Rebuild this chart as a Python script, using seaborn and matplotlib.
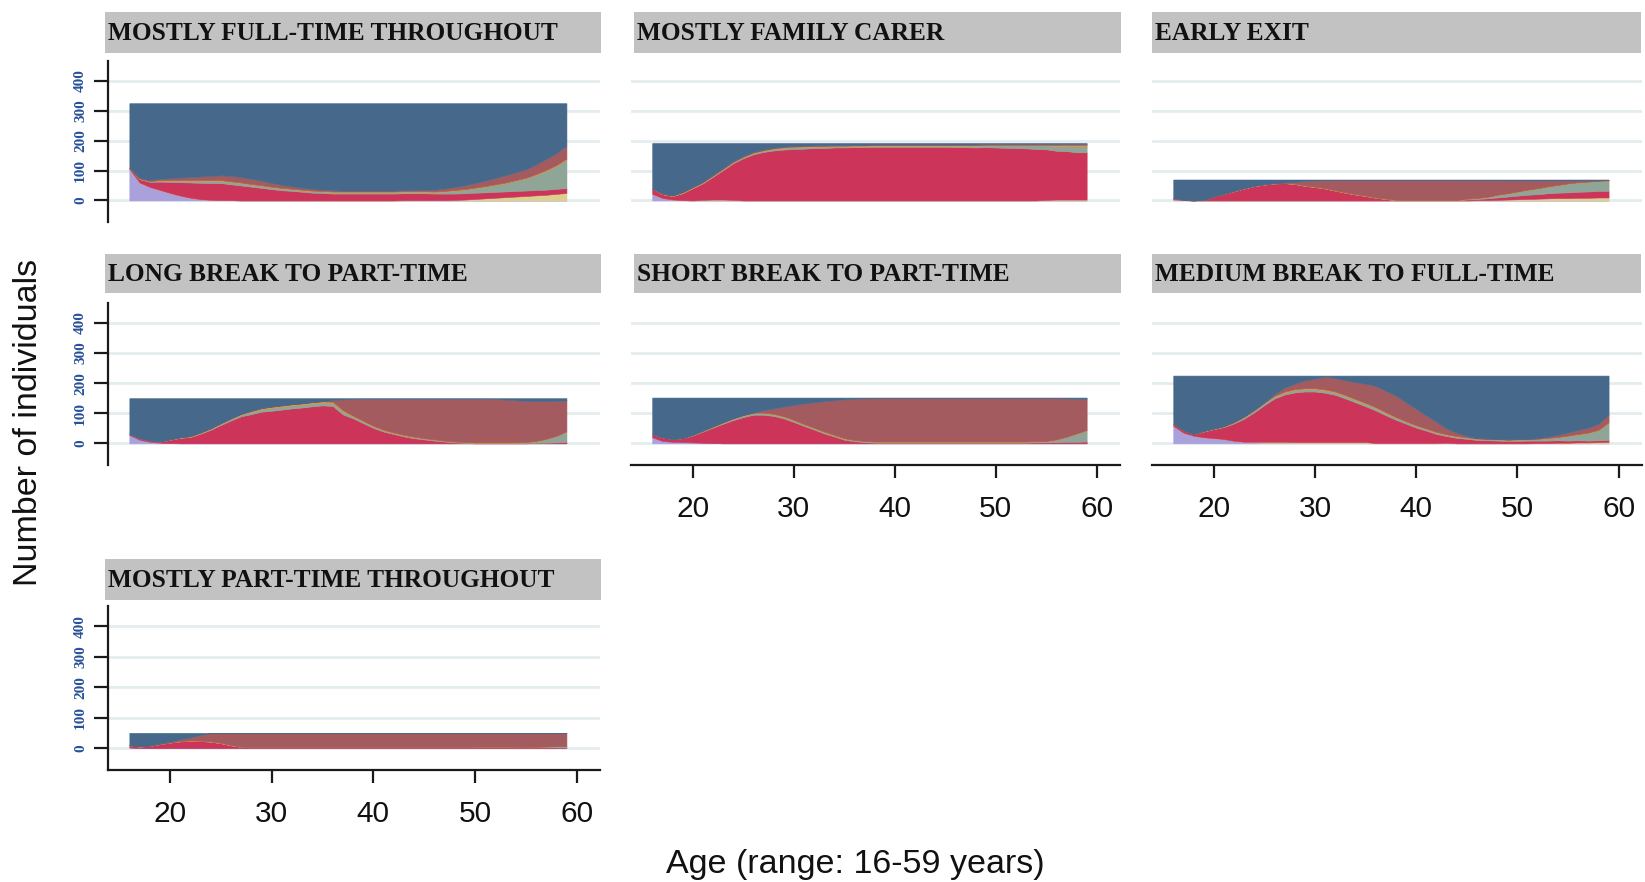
import numpy as np
import pandas as pd
import seaborn as sns
import matplotlib.pyplot as plt
from matplotlib.patches import Rectangle

ages = np.arange(16, 60)
states = ['Full-time', 'Part-time', 'Unemployed', 'Inactive', 'Family care', 'Retired', 'Education']
colours = ['#46698b', '#a45b60', '#e3902e', '#8fa597', '#cc3459', '#dcd08e', '#a9a0dc']
titles = ['MOSTLY FULL-TIME THROUGHOUT', 'MOSTLY FAMILY CARER', 'EARLY EXIT',
          'LONG BREAK TO PART-TIME', 'SHORT BREAK TO PART-TIME', 'MEDIUM BREAK TO FULL-TIME',
          'MOSTLY PART-TIME THROUGHOUT']

# counts per age 16..59
p1_full = [215, 250, 257, 253, 251, 249, 247, 245, 243, 241,
           243, 247, 253, 259, 267, 273, 278, 283, 287, 289,
           291, 292, 292, 292, 292, 292, 292, 291, 291, 290,
           289, 285, 280, 275, 267, 259, 250, 241, 231, 221,
           205, 187, 167, 143]
p1_part = [1, 2, 3, 4, 6, 8, 10, 12, 14, 16,
           18, 18, 17, 15, 12, 10, 8, 6, 5, 4,
           4, 3, 3, 3, 3, 3, 3, 3, 3, 4,
           6, 8, 10, 12, 15, 18, 21, 24, 26, 28,
           32, 36, 40, 42]
p1_unemp = [0, 1, 1, 2, 2, 2, 2, 2, 2, 2,
            2, 2, 2, 2, 2, 2, 2, 2, 2, 2,
            2, 2, 2, 2, 2, 2, 2, 2, 2, 2,
            2, 2, 2, 2, 2, 2, 2, 2, 2, 2,
            3, 3, 3, 3]
p1_inact = [0, 1, 2, 3, 4, 5, 6, 7, 8, 8,
            8, 8, 7, 7, 6, 6, 5, 5, 5, 5,
            5, 5, 5, 5, 5, 5, 5, 5, 5, 5,
            5, 7, 10, 12, 15, 19, 23, 28, 34, 41,
            50, 63, 76, 96]
p1_care = [4, 11, 17, 28, 37, 45, 51, 55, 56, 57,
           53, 50, 46, 42, 38, 34, 32, 29, 26, 25,
           23, 23, 23, 23, 23, 23, 23, 23, 23, 23,
           22, 22, 21, 21, 21, 20, 20, 19, 19, 18,
           18, 17, 17, 16]
p1_ret = [0, 0, 0, 0, 0, 0, 0, 0, 0, 0,
          0, 0, 0, 0, 0, 0, 0, 0, 0, 0,
          0, 0, 0, 0, 0, 0, 0, 1, 1, 1,
          1, 1, 2, 3, 5, 7, 9, 11, 13, 15,
          17, 19, 22, 25]
p1_edu = [105, 60, 45, 35, 25, 16, 9, 4, 2, 1,
          1, 0, 0, 0, 0, 0, 0, 0, 0, 0,
          0, 0, 0, 0, 0, 0, 0, 0, 0, 0,
          0, 0, 0, 0, 0, 0, 0, 0, 0, 0,
          0, 0, 0, 0]

p2_full = [152, 169, 175, 164, 147, 130, 107, 84, 61, 44,
           30, 22, 16, 12, 10, 9, 8, 8, 7, 7,
           6, 6, 5, 5, 5, 5, 5, 5, 5, 5,
           5, 5, 5, 4, 4, 4, 4, 4, 4, 4,
           4, 3, 3, 3]
p2_part = [0, 1, 1, 1, 1, 1, 2, 2, 2, 2,
           2, 2, 2, 2, 2, 2, 2, 2, 2, 2,
           2, 2, 2, 2, 2, 2, 2, 2, 2, 2,
           2, 2, 2, 2, 2, 2, 2, 2, 2, 2,
           3, 3, 4, 4]
p2_unemp = [0, 1, 1, 2, 2, 2, 2, 2, 2, 2,
            2, 2, 2, 2, 2, 2, 2, 2, 2, 2,
            2, 2, 2, 2, 2, 2, 2, 2, 2, 2,
            2, 2, 2, 2, 2, 2, 2, 2, 2, 2,
            3, 3, 4, 4]
p2_inact = [0, 0, 0, 1, 1, 2, 2, 3, 3, 3,
            4, 4, 5, 6, 6, 6, 5, 5, 4, 4,
            4, 4, 4, 4, 4, 4, 4, 4, 4, 4,
            5, 5, 6, 6, 7, 8, 9, 10, 12, 13,
            16, 18, 20, 20]
p2_care = [18, 13, 12, 23, 41, 55, 76, 98, 122, 141,
           154, 162, 167, 170, 172, 173, 175, 175, 177, 177,
           178, 178, 179, 179, 179, 179, 179, 179, 179, 179,
           178, 178, 177, 178, 177, 176, 175, 174, 172, 169,
           163, 162, 158, 158]
p2_ret = [0, 0, 0, 0, 0, 2, 3, 3, 2, 0,
          0, 0, 0, 0, 0, 0, 0, 0, 0, 0,
          0, 0, 0, 0, 0, 0, 0, 0, 0, 0,
          0, 0, 0, 0, 0, 0, 0, 0, 0, 2,
          3, 3, 3, 3]
p2_edu = [22, 8, 3, 1, 0, 0, 0, 0, 0, 0,
          0, 0, 0, 0, 0, 0, 0, 0, 0, 0,
          0, 0, 0, 0, 0, 0, 0, 0, 0, 0,
          0, 0, 0, 0, 0, 0, 0, 0, 0, 0,
          0, 0, 0, 0]

p3_full = [62, 68, 70, 68, 57, 48, 38, 29, 21, 16,
           12, 10, 8, 5, 3, 2, 1, 1, 1, 1,
           1, 1, 1, 1, 1, 1, 1, 1, 1, 1,
           2, 2, 2, 3, 3, 3, 3, 3, 3, 3,
           3, 3, 3, 1]
p3_part = [0, 0, 0, 0, 0, 0, 0, 0, 0, 0,
           0, 1, 6, 15, 21, 27, 35, 42, 48, 53,
           59, 63, 67, 68, 68, 68, 68, 68, 68, 63,
           60, 56, 49, 43, 37, 31, 26, 20, 15, 10,
           6, 4, 1, 2]
p3_unemp = [0, 0, 0, 0, 0, 0, 1, 1, 1, 1,
            1, 1, 1, 1, 1, 1, 1, 1, 1, 1,
            1, 1, 1, 0, 0, 0, 0, 0, 0, 1,
            1, 1, 1, 1, 1, 1, 1, 1, 1, 1,
            1, 1, 1, 1]
p3_inact = [0, 0, 0, 0, 0, 0, 0, 0, 0, 0,
            0, 0, 0, 0, 0, 0, 0, 0, 0, 0,
            0, 0, 0, 0, 0, 0, 0, 0, 0, 2,
            2, 4, 8, 10, 13, 16, 19, 22, 25, 29,
            31, 32, 33, 34]
p3_care = [4, 1, 0, 2, 13, 22, 31, 40, 48, 53,
           57, 58, 55, 49, 45, 40, 33, 26, 20, 15,
           9, 5, 1, 1, 1, 1, 1, 1, 1, 3,
           4, 6, 8, 10, 12, 14, 15, 17, 18, 19,
           20, 21, 22, 22]
p3_ret = [0, 0, 0, 0, 0, 0, 0, 0, 0, 0,
          0, 0, 0, 0, 0, 0, 0, 0, 0, 0,
          0, 0, 0, 0, 0, 0, 0, 0, 0, 0,
          1, 1, 2, 3, 4, 5, 6, 7, 8, 8,
          9, 9, 10, 10]
p3_edu = [4, 1, 0, 0, 0, 0, 0, 0, 0, 0,
          0, 0, 0, 0, 0, 0, 0, 0, 0, 0,
          0, 0, 0, 0, 0, 0, 0, 0, 0, 0,
          0, 0, 0, 0, 0, 0, 0, 0, 0, 0,
          0, 0, 0, 0]

p4_full = [120, 133, 141, 144, 137, 130, 126, 114, 100, 83,
           67, 52, 42, 33, 28, 24, 20, 17, 13, 10,
           7, 4, 3, 2, 2, 2, 2, 2, 2, 2,
           2, 2, 2, 2, 2, 2, 3, 5, 7, 9,
           10, 10, 9, 8]
p4_part = [0, 0, 0, 0, 0, 0, 0, 0, 0, 0,
           0, 0, 0, 0, 0, 0, 0, 0, 0, 0,
           5, 36, 55, 73, 90, 103, 112, 120, 126, 131,
           135, 139, 142, 144, 145, 145, 144, 142, 140, 137,
           132, 125, 116, 102]
p4_unemp = [0, 0, 0, 0, 1, 1, 2, 2, 2, 2,
            2, 2, 3, 3, 4, 4, 4, 4, 4, 4,
            4, 4, 2, 2, 2, 2, 2, 2, 2, 1,
            1, 1, 1, 1, 1, 1, 1, 1, 1, 1,
            1, 1, 1, 1]
p4_inact = [0, 0, 0, 0, 0, 1, 1, 2, 3, 4,
            5, 6, 8, 9, 10, 10, 10, 10, 10, 10,
            10, 10, 7, 6, 5, 4, 3, 3, 3, 3,
            3, 2, 2, 2, 2, 2, 2, 2, 2, 3,
            6, 12, 21, 34]
p4_care = [2, 5, 4, 4, 11, 18, 21, 32, 45, 61,
           76, 90, 97, 105, 108, 112, 116, 119, 123, 126,
           124, 96, 83, 67, 51, 39, 31, 23, 17, 13,
           9, 6, 3, 1, 0, 0, 0, 0, 0, 0,
           1, 2, 3, 5]
p4_edu = [28, 12, 5, 2, 1, 0, 0, 0, 0, 0,
          0, 0, 0, 0, 0, 0, 0, 0, 0, 0,
          0, 0, 0, 0, 0, 0, 0, 0, 0, 0,
          0, 0, 0, 0, 0, 0, 0, 0, 0, 0,
          0, 0, 0, 0]

p5_full = [122, 132, 138, 135, 124, 110, 96, 82, 69, 58,
           50, 42, 36, 30, 25, 20, 16, 12, 9, 6,
           4, 3, 2, 1, 1, 1, 1, 1, 1, 1,
           1, 1, 1, 1, 1, 1, 1, 1, 1, 2,
           2, 3, 4, 5]
p5_part = [0, 0, 0, 0, 0, 0, 0, 0, 0, 0,
           0, 8, 18, 32, 49, 68, 84, 101, 115, 129,
           137, 141, 144, 145, 145, 145, 145, 145, 145, 145,
           145, 145, 145, 145, 145, 145, 145, 145, 144, 142,
           137, 127, 115, 103]
p5_unemp = [0, 0, 0, 0, 1, 1, 2, 2, 2, 2,
            2, 2, 2, 2, 2, 2, 2, 2, 2, 2,
            1, 1, 1, 1, 1, 1, 1, 1, 1, 1,
            1, 1, 1, 1, 1, 1, 1, 1, 1, 1,
            1, 1, 1, 1]
p5_inact = [0, 0, 0, 0, 1, 2, 2, 3, 4, 5,
            5, 5, 5, 5, 5, 4, 4, 4, 3, 3,
            3, 3, 3, 3, 3, 3, 3, 3, 3, 3,
            3, 3, 3, 3, 3, 3, 3, 3, 3, 4,
            8, 16, 27, 37]
p5_care = [10, 12, 9, 13, 23, 37, 51, 65, 77, 87,
           95, 95, 91, 83, 71, 58, 46, 33, 23, 12,
           7, 4, 2, 2, 2, 2, 2, 2, 2, 2,
           2, 2, 2, 2, 2, 2, 2, 2, 3, 3,
           4, 5, 5, 6]
p5_edu = [20, 8, 5, 4, 3, 2, 1, 0, 0, 0,
          0, 0, 0, 0, 0, 0, 0, 0, 0, 0,
          0, 0, 0, 0, 0, 0, 0, 0, 0, 0,
          0, 0, 0, 0, 0, 0, 0, 0, 0, 0,
          0, 0, 0, 0]

p6_full = [160, 182, 195, 184, 176, 168, 154, 136, 114, 89,
           62, 40, 27, 16, 10, 4, 8, 16, 22, 27,
           35, 51, 67, 89, 111, 133, 154, 176, 190, 201,
           208, 209, 210, 212, 211, 210, 208, 203, 197, 189,
           181, 173, 160, 130]
p6_part = [0, 0, 0, 0, 0, 0, 0, 0, 0, 0,
           5, 13, 18, 26, 32, 42, 45, 49, 56, 64,
           70, 71, 71, 63, 54, 43, 33, 19, 11, 4,
           1, 1, 1, 1, 1, 1, 2, 4, 7, 10,
           13, 16, 20, 25]
p6_unemp = [0, 0, 0, 1, 1, 1, 2, 2, 2, 2,
            2, 3, 3, 3, 3, 3, 3, 3, 3, 3,
            3, 3, 2, 2, 2, 2, 2, 2, 2, 1,
            1, 1, 1, 1, 1, 1, 1, 1, 1, 1,
            1, 1, 2, 2]
p6_inact = [0, 0, 0, 1, 1, 2, 3, 5, 6, 7,
            7, 7, 8, 8, 8, 8, 8, 8, 8, 8,
            8, 7, 7, 6, 6, 5, 5, 4, 4, 4,
            4, 4, 4, 3, 4, 4, 5, 8, 10, 16,
            20, 26, 33, 57]
p6_care = [7, 8, 5, 19, 30, 40, 58, 77, 98, 122,
           144, 157, 165, 168, 168, 164, 157, 145, 132, 119,
           108, 92, 77, 64, 51, 41, 30, 22, 18, 15,
           11, 10, 9, 8, 8, 9, 8, 8, 8, 7,
           7, 6, 6, 6]
p6_ret = [0, 0, 0, 0, 0, 0, 0, 0, 2, 3,
          3, 3, 3, 3, 3, 3, 3, 3, 3, 3,
          1, 1, 1, 1, 1, 1, 1, 0, 0, 0,
          0, 0, 0, 0, 0, 0, 1, 1, 2, 2,
          3, 3, 4, 5]
p6_edu = [58, 35, 25, 20, 17, 14, 8, 5, 3, 2,
          2, 2, 1, 1, 1, 1, 1, 1, 1, 1,
          0, 0, 0, 0, 0, 0, 0, 2, 0, 0,
          0, 0, 0, 0, 0, 0, 0, 0, 0, 0,
          0, 0, 0, 0]

p7_full = [41, 44, 42, 35, 30, 22, 15, 7, 1, 0,
           0, 0, 0, 0, 0, 0, 0, 0, 0, 0,
           1, 1, 1, 1, 1, 1, 1, 1, 1, 1,
           1, 1, 1, 1, 1, 1, 1, 1, 1, 1,
           1, 1, 1, 1]
p7_part = [0, 1, 1, 2, 2, 5, 10, 19, 27, 33,
           40, 46, 47, 47, 47, 47, 47, 47, 47, 47,
           46, 46, 46, 46, 46, 46, 46, 46, 46, 46,
           46, 46, 46, 46, 45, 45, 45, 45, 45, 46,
           45, 44, 43, 43]
p7_unemp = [0, 0, 0, 0, 0, 1, 1, 1, 1, 1,
            1, 0, 0, 0, 0, 0, 0, 0, 0, 0,
            0, 0, 0, 0, 0, 0, 0, 0, 0, 0,
            0, 0, 0, 0, 1, 1, 1, 1, 1, 0,
            0, 0, 0, 0]
p7_inact = [0, 0, 0, 0, 0, 0, 0, 0, 0, 0,
            0, 0, 1, 1, 1, 1, 1, 1, 1, 1,
            1, 1, 1, 1, 1, 1, 1, 1, 1, 1,
            1, 1, 1, 1, 1, 1, 1, 1, 1, 1,
            2, 3, 4, 4]
p7_care = [7, 5, 7, 13, 18, 22, 24, 23, 21, 16,
           9, 4, 2, 2, 2, 2, 2, 2, 2, 2,
           2, 2, 2, 2, 2, 2, 2, 2, 2, 2,
           2, 2, 2, 2, 2, 2, 2, 2, 2, 2,
           2, 2, 2, 2]
p7_edu = [2, 0, 0, 0, 0, 0, 0, 0, 0, 0,
          0, 0, 0, 0, 0, 0, 0, 0, 0, 0,
          0, 0, 0, 0, 0, 0, 0, 0, 0, 0,
          0, 0, 0, 0, 0, 0, 0, 0, 0, 0,
          0, 0, 0, 0]

panel_series = [
    [p1_full, p1_part, p1_unemp, p1_inact, p1_care, p1_ret, p1_edu],
    [p2_full, p2_part, p2_unemp, p2_inact, p2_care, p2_ret, p2_edu],
    [p3_full, p3_part, p3_unemp, p3_inact, p3_care, p3_ret, p3_edu],
    [p4_full, p4_part, p4_unemp, p4_inact, p4_care, None, p4_edu],
    [p5_full, p5_part, p5_unemp, p5_inact, p5_care, None, p5_edu],
    [p6_full, p6_part, p6_unemp, p6_inact, p6_care, p6_ret, p6_edu],
    [p7_full, p7_part, p7_unemp, p7_inact, p7_care, None, p7_edu],
]

rows = []
for title, series in zip(titles, panel_series):
    for state, vals in zip(states, series):
        if vals is None:
            continue
        for a, v in zip(ages, vals):
            rows.append((title, state, a, v))
df = pd.DataFrame(rows, columns=['cluster', 'state', 'age', 'n'])

sns.set_theme(style='white')
plt.rcParams['font.family'] = ['Liberation Sans', 'DejaVu Sans']

W, H = 1645, 882
fig = plt.figure(figsize=(W / 100, H / 100), dpi=100)
fig.patch.set_facecolor('white')


def frac(l, t, r, b):
    return [l / W, 1 - b / H, (r - l) / W, (b - t) / H]


cols_lr = [(108, 600), (631, 1120), (1152, 1642)]
strip_lr = [(105, 601), (634, 1121), (1152, 1641)]
rows_tb = [(61, 222), (303, 465), (606, 770)]
strips_tb = [(12, 53), (254, 293), (559, 600)]
grid = [(0, 0), (0, 1), (0, 2), (1, 0), (1, 1), (1, 2), (2, 0)]
xaxis_on = {(1, 1), (1, 2), (2, 0)}
pal = dict(zip(states, colours))

for title, (r, c) in zip(titles, grid):
    l, rr = cols_lr[c]
    t, b = rows_tb[r]
    ax = fig.add_axes(frac(l, t, rr, b))
    ax.set_facecolor('none')
    sub = df[df['cluster'] == title]
    sns.histplot(data=sub, x='age', weights='n', hue='state', hue_order=states,
                 palette=pal, multiple='stack', discrete=True, element='poly',
                 alpha=1, linewidth=0, legend=False, ax=ax)
    # close the thin antialiasing seams between stacked layers
    for coll in ax.collections:
        coll.set_edgecolor(coll.get_facecolor())
        coll.set_linewidth(0.4)
    ax.set_xlim(13.9, 62.3)
    ax.set_ylim(-72, 466)
    ax.set_xlabel('')
    ax.set_ylabel('')
    ax.set_yticks([0, 100, 200, 300, 400])
    ax.set_yticklabels(['0', '100', '200', '300', '400'], rotation=90, va='center',
                       fontfamily='Liberation Serif', fontsize=11, fontweight='bold',
                       color='#27509a')
    ax.set_xticks([20, 30, 40, 50, 60])
    ax.set_xticklabels(['20', '30', '40', '50', '60'], fontsize=21.5)
    ax.yaxis.grid(True, color='#e3ecef', lw=2)
    ax.xaxis.grid(False)
    ax.set_axisbelow(True)
    for s in ['top', 'right']:
        ax.spines[s].set_visible(False)
    ax.spines['left'].set_visible(c == 0)
    ax.spines['bottom'].set_visible((r, c) in xaxis_on)
    for s in ['left', 'bottom']:
        ax.spines[s].set_color('#1a1a1a')
        ax.spines[s].set_linewidth(1.6)
    ax.tick_params(axis='y', left=(c == 0), labelleft=(c == 0), length=10,
                   width=1.6, color='#1a1a1a', pad=5)
    ax.tick_params(axis='x', bottom=((r, c) in xaxis_on), labelbottom=((r, c) in xaxis_on),
                   length=9.5, width=1.6, color='#1a1a1a', pad=12, labelcolor='#111111')

    sl, sr = strip_lr[c]
    st, sb = strips_tb[r]
    fig.add_artist(Rectangle((sl / W, 1 - sb / H), (sr - sl) / W, (sb - st) / H,
                             transform=fig.transFigure, fc='#c2c2c2', ec='none'))
    fig.text((sl + 3) / W, 1 - ((st + sb) / 2 + 1) / H, title, ha='left', va='center',
             fontfamily='Liberation Serif', fontweight='bold', fontsize=18.3, color='#111111')

fig.text(855 / W, 1 - 864 / H, 'Age (range: 16-59 years)', ha='center', va='center',
         fontsize=24.5, color='#111111')
fig.text(29 / W, 1 - 422 / H, 'Number of individuals', ha='center', va='center',
         rotation=90, fontsize=24.5, color='#111111')

plt.savefig('out.png', dpi=100)
plt.close()
